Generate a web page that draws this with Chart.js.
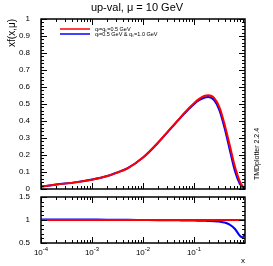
<!DOCTYPE html>
<html>
<head>
<meta charset="utf-8">
<script src="https://cdn.jsdelivr.net/npm/chart.js@4/dist/chart.umd.min.js"></script>
<style>
  body { margin: 0; background: #fff; }
  canvas { position: absolute; left: 0; top: 0; }
</style>
</head>
<body>
<canvas id="top" width="273" height="266"></canvas>
<canvas id="bottom" width="273" height="266"></canvas>
<script>
// valores
const xVals = [1e-4, 2e-4, 5e-4, 1e-3, 2e-3, 3e-3, 5e-3, 1e-2, 2e-2, 3e-2, 0.05, 0.079, 0.1, 0.126, 0.158, 0.19, 0.25, 0.316, 0.398, 0.5, 0.63, 0.79, 0.89, 1.0];
const redPdf  = [0.014, 0.026, 0.040, 0.055, 0.076, 0.095, 0.122, 0.185, 0.275, 0.335, 0.41, 0.475, 0.505, 0.53, 0.547, 0.552, 0.535, 0.48, 0.38, 0.26, 0.135, 0.045, 0.018, 0.0];
const bluePdf = [0.0142, 0.0263, 0.0405, 0.0555, 0.0766, 0.0956, 0.1225, 0.185, 0.274, 0.333, 0.407, 0.47, 0.499, 0.522, 0.537, 0.541, 0.522, 0.463, 0.359, 0.234, 0.109, 0.03, 0.011, 0.0];
const redRatio  = [1, 1, 1, 1, 1, 1, 1, 1, 1, 1, 1, 1, 1, 1, 1, 1, 1, 1, 1, 1, 1, 1, 1, 1];
const blueRatio = [1.012, 1.012, 1.012, 1.01, 1.008, 1.006, 1.004, 1.0, 0.996, 0.994, 0.992, 0.99, 0.988, 0.985, 0.982, 0.98, 0.975, 0.965, 0.945, 0.9, 0.81, 0.66, 0.62, 0.70];
const xTickVals = [1e-4, 1e-3, 1e-2, 1e-1];
const xTickExp = ['-4', '-3', '-2', '-1'];
const legendLabels = ['q\u1D62=q\u209B=0.5 GeV', 'q\u1D62=0.5 GeV & q\u209B=1.0 GeV'];

const fuente = 'Liberation Sans, Arial, sans-serif';

function puntos(ys) {
    return xVals.map((x, i) => ({ x: x, y: ys[i] }));
}

// marco y marcas estilo ROOT
function marcasPlugin(yMinor, yMajor, textos) {
    return {
        id: 'marcas',
        afterDraw(chart) {
            const ctx = chart.ctx;
            const a = chart.chartArea;
            const sx = chart.scales.x;
            const sy = chart.scales.y;
            ctx.save();
            ctx.strokeStyle = '#000';
            ctx.lineWidth = 1;
            ctx.beginPath();
            // x
            for (let d = -4; d < 0; d++) {
                for (let m = 1; m <= 9; m++) {
                    const v = m * Math.pow(10, d);
                    const px = Math.round(sx.getPixelForValue(v)) + 0.5;
                    const len = m === 1 ? 6 : 3;
                    ctx.moveTo(px, a.bottom); ctx.lineTo(px, a.bottom - len);
                    ctx.moveTo(px, a.top); ctx.lineTo(px, a.top + len);
                }
            }
            // y
            const yMin = sy.min, yMax = sy.max;
            for (let v = yMin; v <= yMax + 1e-9; v += yMinor) {
                const py = Math.round(sy.getPixelForValue(v)) + 0.5;
                const r = Math.abs(v / yMajor - Math.round(v / yMajor)) < 1e-6;
                const len = r ? 6 : 3;
                ctx.moveTo(a.left, py); ctx.lineTo(a.left + len, py);
                ctx.moveTo(a.right, py); ctx.lineTo(a.right - len, py);
            }
            ctx.stroke();
            ctx.lineWidth = 1.5;
            ctx.strokeRect(a.left, a.top, a.right - a.left, a.bottom - a.top);
            if (textos) textos(ctx, a, sx);
            ctx.restore();
        }
    };
}

function escalaX() {
    return {
        type: 'logarithmic',
        min: 1e-4,
        max: 1,
        grid: { display: false },
        border: { display: false },
        ticks: { display: false }
    };
}

function textosArriba(ctx, a) {
    ctx.fillStyle = '#000';
    ctx.textBaseline = 'middle';
    ctx.textAlign = 'center';
    ctx.font = '11px ' + fuente;
    ctx.fillText('up-val, \u03BC = 10 GeV', 137, 8);
    ctx.save();
    ctx.translate(12, 19);
    ctx.rotate(-Math.PI / 2);
    ctx.textAlign = 'right';
    ctx.font = '10px ' + fuente;
    ctx.fillText('xf(x,\u03BC)', 0, 0);
    ctx.restore();
    ctx.save();
    ctx.translate(257, 154);
    ctx.rotate(-Math.PI / 2);
    ctx.textAlign = 'center';
    ctx.font = '7px ' + fuente;
    ctx.fillText('TMDplotter 2.2.4', 0, 0);
    ctx.restore();
    // leyenda
    const colores = ['#ff0000', '#0000ff'];
    ctx.font = '5.5px ' + fuente;
    ctx.textAlign = 'left';
    for (let i = 0; i < 2; i++) {
        const y = 29 + i * 5;
        ctx.strokeStyle = colores[i];
        ctx.lineWidth = 1.5;
        ctx.beginPath();
        ctx.moveTo(60, y); ctx.lineTo(90, y);
        ctx.stroke();
        ctx.fillText(legendLabels[i], 95, y);
    }
}

function textosAbajo(ctx, a, sx) {
    ctx.fillStyle = '#000';
    ctx.textBaseline = 'middle';
    // etiquetas de decadas
    xTickVals.forEach((v, i) => {
        const px = sx.getPixelForValue(v);
        ctx.font = '8px ' + fuente;
        const w1 = ctx.measureText('10').width;
        ctx.font = '6px ' + fuente;
        const w2 = ctx.measureText(xTickExp[i]).width;
        const x0 = px - (w1 + w2) / 2;
        ctx.textAlign = 'left';
        ctx.font = '8px ' + fuente;
        ctx.fillText('10', x0, 253);
        ctx.font = '6px ' + fuente;
        ctx.fillText(xTickExp[i], x0 + w1, 249);
    });
    ctx.textAlign = 'center';
    ctx.font = '8px ' + fuente;
    ctx.fillText('x', 243, 261);
}

const lineaRoja = { borderColor: '#ff0000', borderWidth: 2, pointRadius: 0, cubicInterpolationMode: 'monotone' };
const lineaAzul = { borderColor: '#0000ff', borderWidth: 2, pointRadius: 0, cubicInterpolationMode: 'monotone' };

new Chart(document.getElementById('top'), {
    type: 'line',
    data: {
        datasets: [
            Object.assign({ data: puntos(redPdf) }, lineaRoja),
            Object.assign({ data: puntos(bluePdf) }, lineaAzul)
        ]
    },
    options: {
        responsive: false,
        animation: false,
        layout: { padding: { top: 19, right: 28, left: 0, bottom: 0 } },
        plugins: { legend: { display: false }, tooltip: { enabled: false } },
        scales: {
            x: Object.assign(escalaX(), { afterFit: s => { s.height = 77; } }),
            y: {
                min: 0,
                max: 1,
                grid: { display: false },
                border: { display: false },
                afterFit: s => { s.width = 41; },
                ticks: {
                    stepSize: 0.1,
                    padding: 3,
                    color: '#000',
                    font: { family: fuente, size: 8 },
                    callback: v => String(+v.toFixed(1))
                }
            }
        }
    },
    plugins: [marcasPlugin(0.02, 0.1, textosArriba)]
});

new Chart(document.getElementById('bottom'), {
    type: 'line',
    data: {
        datasets: [
            Object.assign({ data: puntos(redRatio) }, lineaRoja),
            Object.assign({ data: puntos(blueRatio) }, lineaAzul)
        ]
    },
    options: {
        responsive: false,
        animation: false,
        layout: { padding: { top: 197, right: 28, left: 0, bottom: 0 } },
        plugins: { legend: { display: false }, tooltip: { enabled: false } },
        scales: {
            x: Object.assign(escalaX(), { afterFit: s => { s.height = 23; } }),
            y: {
                min: 0.5,
                max: 1.5,
                grid: { display: false },
                border: { display: false },
                afterFit: s => { s.width = 41; },
                ticks: {
                    stepSize: 0.5,
                    padding: 3,
                    color: '#000',
                    font: { family: fuente, size: 8 },
                    callback: v => String(+v.toFixed(1))
                }
            }
        }
    },
    plugins: [marcasPlugin(0.1, 0.5, textosAbajo)]
});
</script>
</body>
</html>
